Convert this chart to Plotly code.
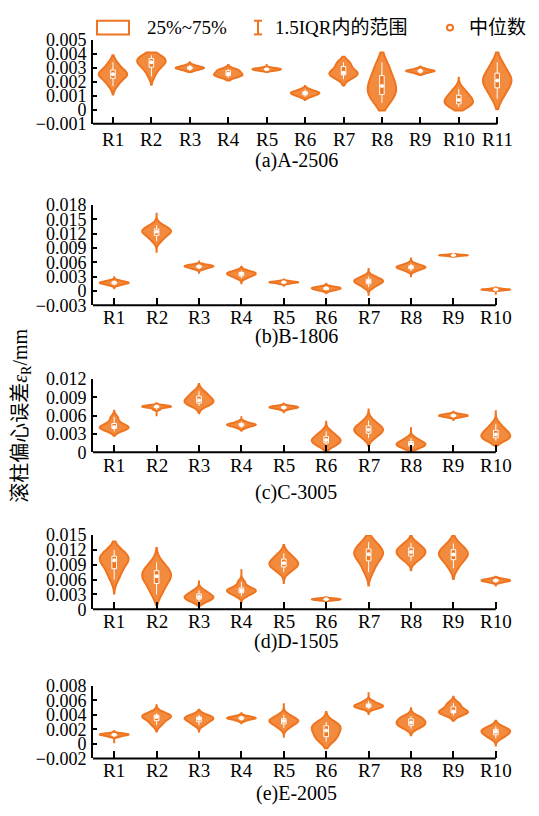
import numpy as np
import plotly.graph_objects as go

UNIT = 1e-3  # values below are typed in units of 0.001 mm

CATS_A = ["R1", "R2", "R3", "R4", "R5", "R6", "R7", "R8", "R9", "R10", "R11"]
CATS_B = ["R1", "R2", "R3", "R4", "R5", "R6", "R7", "R8", "R9", "R10"]

# samples of each violin (units of 0.001 mm)
A_2506 = [
    [1.7, 2.0, 2.2, 2.4, 2.5, 2.55, 2.6, 2.7, 2.9, 3.1, 3.4],
    [2.4, 2.8, 3.0, 3.2, 3.3, 3.4, 3.5, 3.6, 3.7, 3.8, 3.9],
    [2.8, 2.9, 2.95, 3.0, 3.0, 3.05, 3.1, 3.2],
    [2.3, 2.4, 2.45, 2.5, 2.55, 2.6, 2.7, 2.8, 2.85, 2.9],
    [2.8, 2.85, 2.9, 2.9, 2.95, 3.0],
    [0.95, 1.05, 1.15, 1.2, 1.25, 1.3, 1.45],
    [2.2, 2.4, 2.5, 2.6, 2.6, 2.7, 2.8, 3.1, 3.3, 3.4],
    [0.5, 0.8, 1.0, 1.2, 1.4, 1.6, 1.8, 2.0, 2.3, 2.6, 3.0, 3.4],
    [2.6, 2.7, 2.75, 2.8, 2.8, 2.85, 2.95],
    [0.2, 0.35, 0.45, 0.55, 0.7, 0.85, 1.0, 1.2, 1.5],
    [0.8, 1.2, 1.5, 1.8, 2.0, 2.1, 2.2, 2.4, 2.7, 3.0, 3.4],
]
B_1806 = [
    [1.2, 1.4, 1.6, 1.7, 1.75, 1.8, 2.0, 2.2],
    [10.5, 11.2, 11.8, 12.2, 12.4, 12.6, 12.9, 13.3, 13.8],
    [4.6, 4.9, 5.1, 5.2, 5.3, 5.5],
    [2.7, 3.1, 3.4, 3.6, 3.7, 3.9, 4.2],
    [1.5, 1.7, 1.8, 1.85, 1.9, 2.1],
    [0.1, 0.3, 0.5, 0.6, 0.7, 0.9],
    [0.8, 1.3, 1.7, 1.9, 2.1, 2.3, 2.6, 3.0],
    [4.2, 4.6, 4.8, 5.0, 5.1, 5.3, 5.7],
    [7.3, 7.4, 7.45, 7.5, 7.5, 7.55, 7.65],
    [0.1, 0.2, 0.3, 0.3, 0.35, 0.5],
]
C_3005 = [
    [3.4, 3.7, 3.9, 4.0, 4.1, 4.2, 4.4, 4.7, 5.2, 5.8],
    [7.0, 7.3, 7.4, 7.5, 7.5, 7.6, 7.7],
    [7.6, 7.9, 8.1, 8.3, 8.5, 8.8, 9.1, 9.5, 10.0],
    [4.0, 4.3, 4.4, 4.5, 4.6, 4.7, 5.0],
    [7.0, 7.2, 7.3, 7.35, 7.4, 7.5, 7.6],
    [0.9, 1.3, 1.6, 1.8, 2.0, 2.2, 2.5, 2.9, 3.4],
    [2.3, 2.8, 3.2, 3.5, 3.7, 3.9, 4.2, 4.6, 5.2],
    [0.6, 0.9, 1.1, 1.3, 1.4, 1.6, 1.9, 2.3],
    [5.7, 5.85, 5.95, 6.0, 6.05, 6.15, 6.3],
    [1.9, 2.2, 2.4, 2.6, 2.9, 3.2, 3.5, 3.9, 4.6],
]
D_1505 = [
    [6.0, 7.2, 8.0, 8.8, 9.5, 9.9, 10.2, 10.5, 10.8, 11.3, 12.0],
    [3.0, 4.2, 5.2, 5.9, 6.5, 6.9, 7.3, 7.8, 8.5, 9.5],
    [1.5, 1.9, 2.2, 2.4, 2.6, 2.9, 3.3, 3.8],
    [2.7, 3.2, 3.5, 3.7, 3.9, 4.1, 4.5, 5.5],
    [7.6, 8.2, 8.7, 9.0, 9.3, 9.6, 10.0, 10.6, 11.3],
    [1.8, 1.9, 2.0, 2.0, 2.1, 2.2],
    [7.5, 8.8, 9.8, 10.5, 11.0, 11.3, 11.7, 12.2, 12.9, 13.6],
    [9.8, 10.4, 10.9, 11.3, 11.6, 11.9, 12.3, 12.8, 13.4],
    [8.3, 9.5, 10.2, 10.8, 11.1, 11.4, 11.9, 12.5, 13.3],
    [5.4, 5.6, 5.75, 5.8, 5.9, 6.0, 6.2],
]
E_2005 = [
    [1.0, 1.15, 1.25, 1.3, 1.35, 1.45],
    [2.6, 3.1, 3.5, 3.7, 3.85, 4.0, 4.2],
    [2.6, 2.9, 3.2, 3.4, 3.5, 3.6, 3.8, 4.0],
    [3.2, 3.4, 3.5, 3.55, 3.6, 3.7, 3.85],
    [2.2, 2.6, 2.9, 3.1, 3.2, 3.35, 3.6, 4.0],
    [0.3, 0.7, 1.0, 1.4, 1.7, 2.0, 2.3, 2.5, 2.7, 3.0],
    [4.8, 5.0, 5.1, 5.2, 5.3, 5.4, 5.6, 5.9],
    [2.1, 2.4, 2.6, 2.8, 2.95, 3.1, 3.4, 3.6, 3.8],
    [3.9, 4.2, 4.3, 4.4, 4.45, 4.6, 5.0, 5.4, 5.6],
    [0.8, 1.1, 1.4, 1.6, 1.75, 1.9, 2.1, 2.4],
]

# lower / upper tip of each violin outline (units of 0.001 mm)
A_SPAN = [(1.1, 3.9), (1.8, 4.1), (2.7, 3.4), (2.1, 3.2), (2.7, 3.2), (0.7, 1.7),
          (1.75, 3.8), (-0.05, 4.1), (2.5, 3.1), (-0.05, 2.3), (0.05, 4.1)]
B_SPAN = [(0.55, 2.9), (8.0, 16.2), (3.8, 6.2), (1.4, 5.1), (0.9, 2.6), (-0.7, 1.7),
          (-1.0, 4.8), (3.1, 6.8), (6.9, 7.9), (-0.8, 1.0)]
C_SPAN = [(2.7, 6.8), (5.9, 8.2), (6.4, 11.2), (3.5, 5.9), (6.4, 8.0), (0.0, 5.0),
          (1.1, 7.0), (0.0, 4.1), (5.3, 6.8), (1.1, 6.7)]
D_SPAN = [(3.2, 13.7), (0.9, 12.4), (0.7, 5.8), (1.5, 8.1), (5.3, 13.0), (1.5, 2.6),
          (4.8, 15.0), (7.9, 15.0), (6.1, 15.0), (4.6, 6.6)]
E_SPAN = [(0.1, 1.9), (1.7, 5.3), (1.7, 4.7), (2.7, 4.35), (1.0, 5.6), (-0.6, 4.4),
          (4.1, 7.1), (1.2, 4.9), (3.2, 6.5), (-0.2, 3.2)]

CAPTIONS = ["(a)A-2506", "(b)B-1806", "(c)C-3005", "(d)D-1505", "(e)E-2005"]
Y_RANGES = [(-0.001, 0.005, 0.001), (-0.003, 0.018, 0.003), (0.0, 0.012, 0.003),
            (0.0, 0.015, 0.003), (-0.002, 0.008, 0.002)]
Y_TITLE = "滚柱偏心误差<i>ε</i><sub>R</sub>/mm"
LEGEND_TEXT = ["25%~75%", "1.5IQR内的范围", "中位数"]

W, H = 539, 816
LINE = "#EE7420"
FILL = "rgba(242,126,42,0.9)"
FONT = "Liberation Serif, Noto Sans CJK SC, serif"


def px(x):
    return x / W


def py(y):
    return 1 - y / H


# (samples, spans, categories, (top px, bottom px), x-range, right px,
#  caption y px, violin width, tick-label offset px)
panels = [
    (A_2506, A_SPAN, CATS_A, (30.7, 116.7), [-0.52, 10.5], 516.4, 154, 0.74, 16),
    (B_1806, B_SPAN, CATS_B, (200.0, 302.7), [-0.5, 9.5], 517.0, 335, 0.68, 12),
    (C_3005, C_SPAN, CATS_B, (378.3, 453.3), [-0.5, 9.5], 517.0, 495, 0.68, 13),
    (D_1505, D_SPAN, CATS_B, (538.3, 614.3), [-0.5, 9.5], 517.0, 647, 0.68, 12),
    (E_2005, E_SPAN, CATS_B, (692.7, 767.3), [-0.5, 9.5], 517.0, 803, 0.68, 12),
]

fig = go.Figure()
annotations = []
shapes = []
for i, (samples, spans, cats, (ytop, ybot), xr, xright, capy, vw, toff) in enumerate(panels):
    k = "" if i == 0 else str(i + 1)
    for c, s, (lo, hi) in zip(cats, samples, spans):
        fig.add_trace(go.Violin(
            x=[c] * len(s), y=[v * UNIT for v in s], xaxis="x" + k, yaxis="y" + k,
            line=dict(color=LINE, width=2), fillcolor=FILL,
            points=False, spanmode="manual", span=[lo * UNIT, hi * UNIT],
            scalemode="width", width=vw,
            box=dict(visible=True, width=0.16, fillcolor=LINE,
                     line=dict(color="white", width=1)),
            meanline=dict(visible=False), showlegend=False, hoverinfo="skip",
        ))
    med = [float(np.median(s)) * UNIT for s in samples]
    fig.add_trace(go.Scatter(
        x=cats, y=med, xaxis="x" + k, yaxis="y" + k, mode="markers",
        marker=dict(color="white", size=4), showlegend=False, hoverinfo="skip",
    ))
    y0, y1, dt = Y_RANGES[i]
    fig.update_layout(**{
        "xaxis" + k: dict(domain=[px(93), px(xright)], anchor="y" + k, range=xr,
                          type="category", categoryorder="array", categoryarray=cats,
                          showline=False, showticklabels=False,
                          ticks="inside", ticklen=7, tickwidth=1.5, tickcolor="black",
                          showgrid=False, zeroline=False, fixedrange=True),
        "yaxis" + k: dict(domain=[py(ybot), py(ytop)], anchor="x" + k,
                          range=[y0, y1], tick0=0, dtick=dt,
                          showline=True, linecolor="black", linewidth=2,
                          ticks="inside", ticklen=4, tickwidth=1.5, tickcolor="black",
                          tickfont=dict(size=18, color="black", family=FONT),
                          ticklabelstandoff=1,
                          showgrid=False, zeroline=False, fixedrange=True),
    })
    # x axis line ends at the last category, as in the reference
    shapes.append(dict(type="line", xref="x" + k, yref="y" + k + " domain",
                       x0=xr[0], x1=len(cats) - 1, y0=0, y1=0,
                       line=dict(color="black", width=2)))
    for c in cats:
        annotations.append(dict(text=c, x=c, y=0, xref="x" + k, yref="y" + k + " domain",
                                yshift=-toff, showarrow=False, xanchor="center",
                                yanchor="middle",
                                font=dict(size=19, color="black", family=FONT)))
    annotations.append(dict(text=CAPTIONS[i], x=px(296), y=py(capy), xref="paper",
                            yref="paper", showarrow=False, xanchor="center",
                            yanchor="middle", font=dict(size=20, color="black", family=FONT)))

annotations.append(dict(text=Y_TITLE, x=px(22), y=py(416), xref="paper", yref="paper",
                        showarrow=False, textangle=-90, xanchor="center", yanchor="middle",
                        font=dict(size=20, color="black", family=FONT)))
for t, x in zip(LEGEND_TEXT, [145, 273, 467]):
    annotations.append(dict(text=t, x=px(x), y=py(18), xref="paper", yref="paper",
                            showarrow=False, xanchor="left", yanchor="middle",
                            font=dict(size=19, color="black", family=FONT)))

shapes += [
    dict(type="rect", xref="paper", yref="paper", x0=px(97), x1=px(129), y0=py(25),
         y1=py(11), line=dict(color=LINE, width=2), fillcolor="white"),
    dict(type="line", xref="paper", yref="paper", x0=px(258), x1=px(258), y0=py(25),
         y1=py(11), line=dict(color=LINE, width=2)),
    dict(type="line", xref="paper", yref="paper", x0=px(254), x1=px(262), y0=py(11),
         y1=py(11), line=dict(color=LINE, width=2)),
    dict(type="line", xref="paper", yref="paper", x0=px(254), x1=px(262), y0=py(25),
         y1=py(25), line=dict(color=LINE, width=2)),
    dict(type="circle", xref="paper", yref="paper", x0=px(447), x1=px(453), y0=py(21),
         y1=py(15), line=dict(color=LINE, width=2)),
]

fig.update_layout(width=W, height=H, margin=dict(l=0, r=0, t=0, b=0),
                  paper_bgcolor="white", plot_bgcolor="white",
                  violinmode="overlay", annotations=annotations, shapes=shapes,
                  font=dict(family=FONT, color="black"))
fig.write_html("out.html", config={"displayModeBar": False})
